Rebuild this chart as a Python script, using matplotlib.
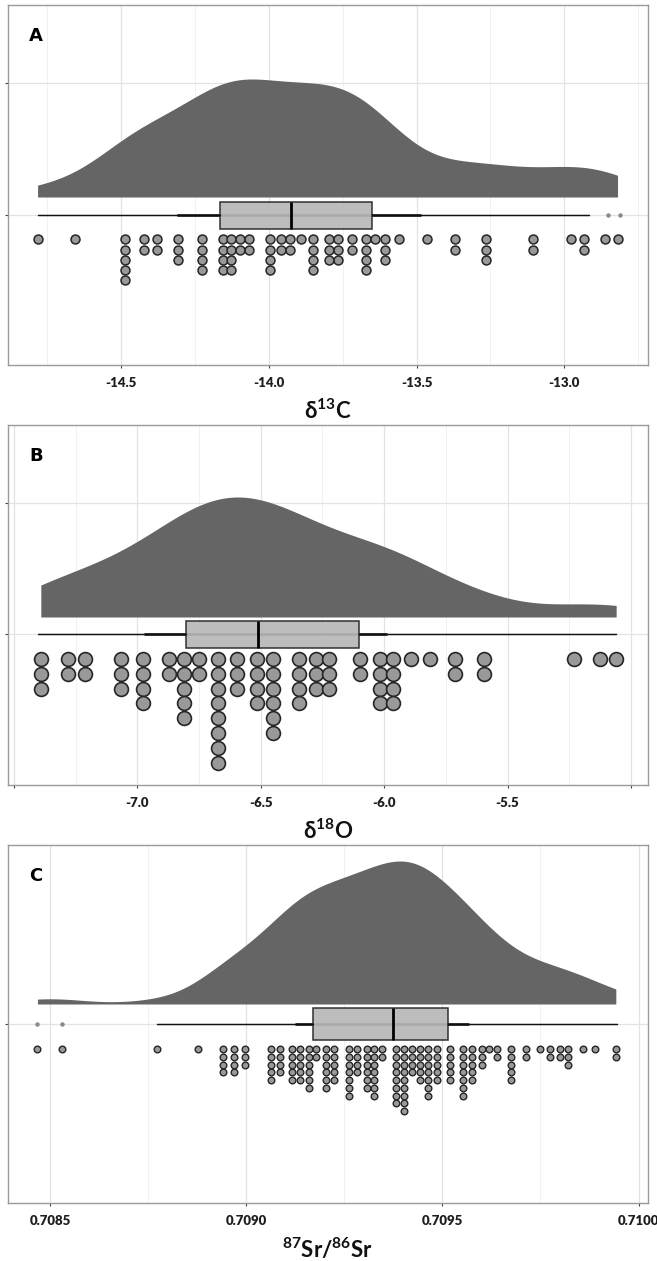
import numpy as np
import matplotlib
matplotlib.use('Agg')
import matplotlib.pyplot as plt

plt.rcParams['font.family'] = ['Lato', 'DejaVu Sans']
plt.rcParams['font.weight'] = 'bold'
plt.rcParams['axes.unicode_minus'] = False
plt.rcParams['mathtext.fontset'] = 'custom'
plt.rcParams['mathtext.rm'] = 'Lato:bold'
plt.rcParams['mathtext.bf'] = 'Lato:bold'
plt.rcParams['mathtext.it'] = 'Lato:bold'

# ---------------- data ----------------
# Panel A: d13C  (dot columns: value, number of stacked dots)
a_vals = [-14.782, -14.657, -14.486, -14.422, -14.377, -14.308, -14.227, -14.156,
          -14.126, -14.097, -14.066, -13.996, -13.959, -13.927, -13.892, -13.851,
          -13.796, -13.765, -13.720, -13.671, -13.641, -13.605, -13.560, -13.466,
          -13.370, -13.266, -13.105, -12.979, -12.933, -12.863, -12.820]
a_counts = [1, 1, 5, 2, 2, 3, 4, 4, 4, 2, 2, 4, 2, 2, 1, 4, 3, 3, 2, 4, 1, 3, 1, 1,
            2, 3, 2, 1, 2, 1, 1]
a_box = dict(q1=-14.165, med=-13.924, q3=-13.652, whislo=-14.781, whishi=-12.915,
             fliers=[-12.851, -12.813])
a_interval = [-14.311, -13.485]
a_ticks = [-14.5, -14.0, -13.5, -13.0]
a_ticklabels = ['-14.5', '-14.0', '-13.5', '-13.0']

# Panel B: d18O
b_vals = [-7.391, -7.280, -7.213, -7.065, -6.977, -6.872, -6.809, -6.752, -6.672,
          -6.597, -6.515, -6.452, -6.347, -6.277, -6.223, -6.098, -6.018, -5.963,
          -5.890, -5.815, -5.711, -5.597, -5.230, -5.125, -5.060]
b_counts = [3, 2, 2, 3, 4, 2, 5, 2, 8, 3, 4, 6, 4, 3, 3, 2, 4, 4, 1, 1, 2, 2, 1, 1, 1]
b_box = dict(q1=-6.802, med=-6.512, q3=-6.102, whislo=-7.404, whishi=-5.061, fliers=[])
b_interval = [-6.972, -5.987]
b_ticks = [-7.5, -7.0, -6.5, -6.0, -5.5, -5.0]
b_ticklabels = ['', '-7.0', '-6.5', '-6.0', '-5.5', '']

# Panel C: 87Sr/86Sr
c_vals = [0.708468, 0.708531, 0.708773, 0.708876, 0.708940, 0.708968, 0.708996,
          0.709063, 0.709087, 0.709116, 0.709138, 0.709159, 0.709178, 0.709203,
          0.709224, 0.709261, 0.709282, 0.709307, 0.709326, 0.709347, 0.709382,
          0.709402, 0.709422, 0.709443, 0.709464, 0.709486, 0.709520, 0.709552,
          0.709575, 0.709600, 0.709620, 0.709640, 0.709674, 0.709713, 0.709749,
          0.709774, 0.709800, 0.709821, 0.709859, 0.709889, 0.709942]
c_counts = [1, 1, 1, 1, 4, 4, 3, 5, 4, 5, 5, 6, 2, 6, 5, 7, 4, 6, 7, 2, 8, 9, 4, 5,
            7, 5, 5, 7, 5, 3, 1, 2, 5, 2, 1, 2, 2, 3, 1, 1, 2]
c_box = dict(q1=0.709170, med=0.709373, q3=0.709515, whislo=0.708773, whishi=0.709944,
             fliers=[0.708468, 0.708531])
c_interval = [0.709125, 0.709569]
c_ticks = [0.7085, 0.7090, 0.7095, 0.7100]
c_ticklabels = ['0.7085', '0.7090', '0.7095', '0.7100']

# ---------------- layout ----------------
W, H = 657, 1261
DPI = 100
fig = plt.figure(figsize=(W / DPI, H / DPI), dpi=DPI)
fig.patch.set_facecolor('white')

DENS_COLOR = '#656565'
DOT_FILL = '#999999'
DOT_EDGE = '#262626'
BOX_FILL = '#b8b8b8'
GRID_MAJ = '#e3e3e3'
GRID_MIN = '#f1f1f1'
BORDER = '#9a9a9a'


def kde(data, grid, adjust=1.0):
    data = np.asarray(data, float)
    n = data.size
    sd = data.std(ddof=1)
    q75, q25 = np.percentile(data, [75, 25])
    bw = adjust * 0.9 * min(sd, (q75 - q25) / 1.34) * n ** -0.2
    z = (grid[:, None] - data[None, :]) / bw
    return np.exp(-0.5 * z * z).sum(1) / (n * bw * np.sqrt(2 * np.pi))


panels = [
    dict(vals=a_vals, counts=a_counts, box=a_box, interval=a_interval, ticks=a_ticks,
         ticklabels=a_ticklabels, top=5, bottom=365, line=215, xlim=(-14.882, -12.717),
         major=0.5, label=r'δ$^{\mathbf{13}}$C', letter='A',
         dens_base=18, dens_h=118, dot_d=10.0, dot_first=24.3, dot_step=10.2,
         box_h=27, yticks=[0, 132], bw_adj=1.0, ew=1.1),
    dict(vals=b_vals, counts=b_counts, box=b_box, interval=b_interval, ticks=b_ticks,
         ticklabels=b_ticklabels, top=425, bottom=785, line=634, xlim=(-7.524, -4.931),
         major=0.5, label=r'δ$^{\mathbf{18}}$O', letter='B',
         dens_base=17, dens_h=120, dot_d=15.0, dot_first=25.0, dot_step=14.8,
         box_h=27, yticks=[0, 131], bw_adj=1.0, ew=1.2),
    dict(vals=c_vals, counts=c_counts, box=c_box, interval=c_interval, ticks=c_ticks,
         ticklabels=c_ticklabels, top=845, bottom=1203, line=1024, xlim=(0.708393, 0.710024),
         major=0.0005, label=r'$^{\mathbf{87}}$Sr/$^{\mathbf{86}}$Sr', letter='C',
         dens_base=20, dens_h=143, dot_d=7.6, dot_first=25.3, dot_step=7.7,
         box_h=32, yticks=[0], bw_adj=1.0, ew=1.0),
]

left_px, right_px = 8, 648
for p in panels:
    rect = [left_px / W, 1 - p['bottom'] / H, (right_px - left_px) / W,
            (p['bottom'] - p['top']) / H]
    ax = fig.add_axes(rect)
    ax.set_facecolor('white')
    ax.set_xlim(*p['xlim'])
    # y in pixel units, 0 at the box line
    ax.set_ylim(-(p['bottom'] - p['line']), p['line'] - p['top'])

    # grid
    maj = np.array(p['ticks'])
    step = p['major']
    minors = np.arange(maj[0] - step / 2, maj[-1] + step, step)
    for m in minors:
        ax.axvline(m, color=GRID_MIN, lw=0.7, zorder=0)
    for m in maj:
        ax.axvline(m, color=GRID_MAJ, lw=0.9, zorder=0)
    for yt in p['yticks']:
        ax.axhline(yt, color=GRID_MAJ, lw=0.9, zorder=0)

    # expanded sample for the density
    sample = np.repeat(np.array(p['vals']), np.array(p['counts']))
    lo, hi = sample.min(), sample.max()
    grid = np.linspace(lo, hi, 600)
    dens = kde(sample, grid, p['bw_adj'])
    ytop = p['dens_base'] + dens / dens.max() * p['dens_h']
    ax.fill_between(grid, p['dens_base'], ytop, color=DENS_COLOR, lw=0, zorder=2)

    # whisker line + thicker interval
    b = p['box']
    ax.hlines(0, b['whislo'], b['whishi'], color='#111111', lw=0.9, zorder=3)
    ax.hlines(0, p['interval'][0], p['interval'][1], color='#111111', lw=1.9, zorder=3)
    stats = [dict(med=b['med'], q1=b['q1'], q3=b['q3'], whislo=b['whislo'],
                  whishi=b['whishi'], fliers=b['fliers'])]
    bxp_kw = dict(positions=[0], widths=p['box_h'], patch_artist=True, showcaps=False,
                  boxprops=dict(facecolor=BOX_FILL, edgecolor='#222222', lw=1.1, alpha=0.92),
                  medianprops=dict(color='#000000', lw=2.0),
                  whiskerprops=dict(color='#111111', lw=0.9),
                  flierprops=dict(marker='o', markersize=2.2, markerfacecolor='#8a8a8a',
                                  markeredgecolor='#8a8a8a'),
                  manage_ticks=False, zorder=4)
    try:
        ax.bxp(stats, orientation='horizontal', **bxp_kw)
    except TypeError:
        ax.bxp(stats, vert=False, **bxp_kw)

    # dot stacks
    xs, ys = [], []
    for v, n in zip(p['vals'], p['counts']):
        for i in range(n):
            xs.append(v)
            ys.append(-(p['dot_first'] + i * p['dot_step']))
    d_pt = p['dot_d'] * 72 / DPI
    ew = p['ew']
    ax.scatter(xs, ys, s=(d_pt - ew * 0.7) ** 2, facecolor=DOT_FILL, edgecolor=DOT_EDGE,
               linewidth=ew, zorder=5)

    # axes styling
    ax.set_xticks(p['ticks'])
    ax.set_xticklabels(p['ticklabels'])
    ax.set_yticks(p['yticks'])
    ax.set_yticklabels([''] * len(p['yticks']))
    ax.tick_params(axis='x', length=2.5, width=0.8, color='#444444', pad=6,
                   labelsize=9.5, labelcolor='#1e1e1e')
    ax.tick_params(axis='y', length=2.2, width=0.8, color='#444444')
    for lab in ax.get_xticklabels():
        lab.set_fontweight('heavy')
    for s in ax.spines.values():
        s.set_color(BORDER)
        s.set_linewidth(1.0)

    # panel letter
    ax.text(21 / (right_px - left_px), 1 - 31 / (p['bottom'] - p['top']), p['letter'],
            transform=ax.transAxes, fontsize=13, fontweight='bold', ha='left',
            va='center', color='#000000', family=['DejaVu Sans'])
    # x title
    fig.text(0.5 * (left_px + right_px) / W, 1 - (p['bottom'] + 46) / H, p['label'],
             ha='center', va='center', fontsize=16, fontweight='bold', color='#111111')

fig.savefig('out.png', dpi=DPI, facecolor='white')
